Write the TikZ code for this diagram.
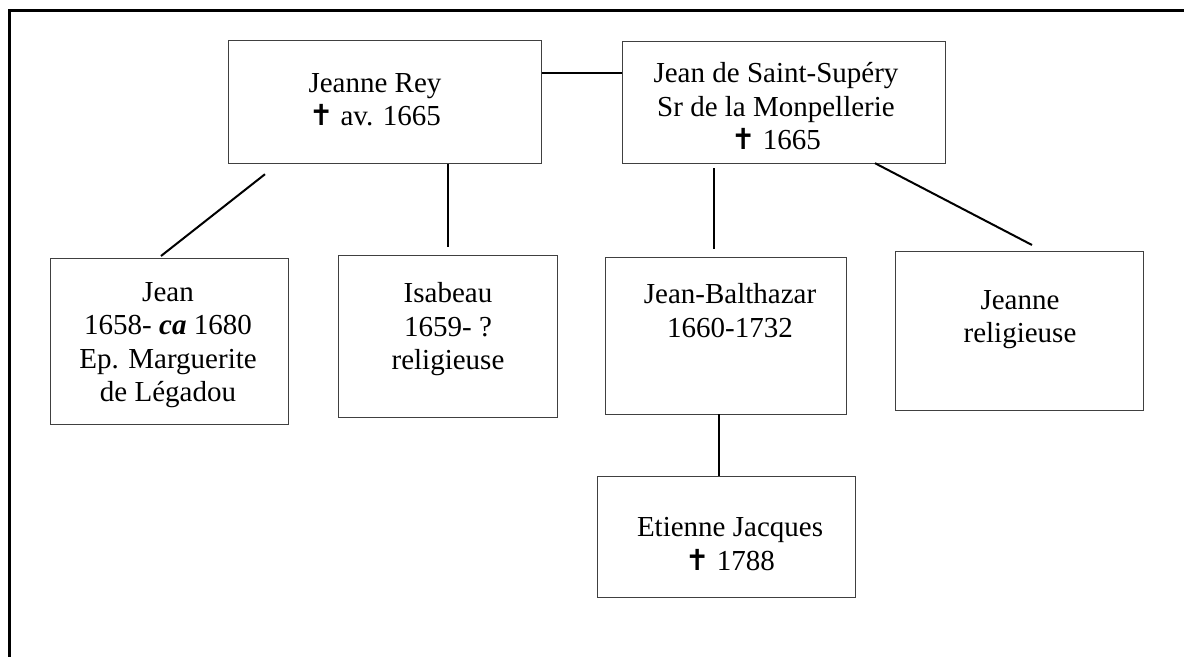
\documentclass[tikz,border=0pt]{standalone}
\usepackage{fontspec}
\setmainfont{Liberation Serif}
\newfontfamily\crossfont{DejaVu Sans}
\usetikzlibrary{calc, positioning}
\newcommand{\deces}{{\crossfont ✝}}
\tikzstyle{person} = [rectangle, anchor=north west, draw=black!75, line width=0.6pt, inner sep=0pt]
\tikzstyle{persontext} = [anchor=north, inner sep=0pt, align=center, font=\fontsize{14.5pt}{16.75pt}\selectfont]
\tikzstyle{line} = [line width=1pt, -]
\tikzstyle{border} = [line width=1.5pt]

\begin{document}
\begin{tikzpicture}[x=0.5pt, y=-0.5pt]
\useasboundingbox (0,0) rectangle (1184,657);

% outer frame (top and left only)
\draw[border] (9,657) -- (9,11) -- (1184,11);

% Parents
\node (jeanneRey) [person, minimum width=156.5pt, minimum height=61.5pt] at (228,40) {};
\node (jeanSS) [person, minimum width=161.5pt, minimum height=61pt] at (622,41) {};
\node (jeanneReyTxt) [persontext] at (375,73) {Jeanne Rey\\\deces{} av. 1665};
\node (jeanSSTxt) [persontext] at (776,62) {Jean de Saint-Supéry\\Sr de la Monpellerie\\\deces{} 1665};

% Children
\node (jean) [person, minimum width=119pt, minimum height=83pt] at (50,258) {};
\node (isabeau) [person, minimum width=109.5pt, minimum height=81pt] at (338,255) {};
\node (jeanBalth) [person, minimum width=120.5pt, minimum height=78.5pt] at (605,257) {};
\node (jeanne) [person, minimum width=124pt, minimum height=79.5pt] at (895,251) {};
\node (jeanTxt) [persontext] at (168,282) {Jean\\1658- \textbf{\textit{ca}} 1680\\Ep. Marguerite\\de Légadou};
\node (isabeauTxt) [persontext] at (448,282) {Isabeau\\1659- ?\\religieuse};
\node (jeanBalthTxt) [persontext] at (730,283) {Jean-Balthazar\\1660-1732};
\node (jeanneTxt) [persontext] at (1020,290) {Jeanne\\religieuse};

% Grandchild
\node (etienne) [person, minimum width=129pt, minimum height=60.5pt] at (597,476) {};
\node (etienneTxt) [persontext] at (730,517) {Etienne Jacques\\\deces{} 1788};

% Links
\draw[line] ($(jeanneRey.north east)+(0,33)$) -- ($(jeanSS.north west)+(0,32)$);
\draw[line] ($(jeanneRey.south west)+(37,10)$) -- ($(jean.north west)+(111,-2)$);
\draw[line] ($(jeanneRey.south west)+(220,0)$) -- ($(isabeau.north west)+(110,-8)$);
\draw[line] ($(jeanSS.south west)+(92,4)$) -- ($(jeanBalth.north west)+(109,-8)$);
\draw[line] ($(jeanSS.south west)+(253,-1)$) -- ($(jeanne.north west)+(137,-6)$);
\draw[line] ($(jeanBalth.south west)+(114,-1)$) -- ($(etienne.north west)+(122,0)$);

\end{tikzpicture}
\end{document}
